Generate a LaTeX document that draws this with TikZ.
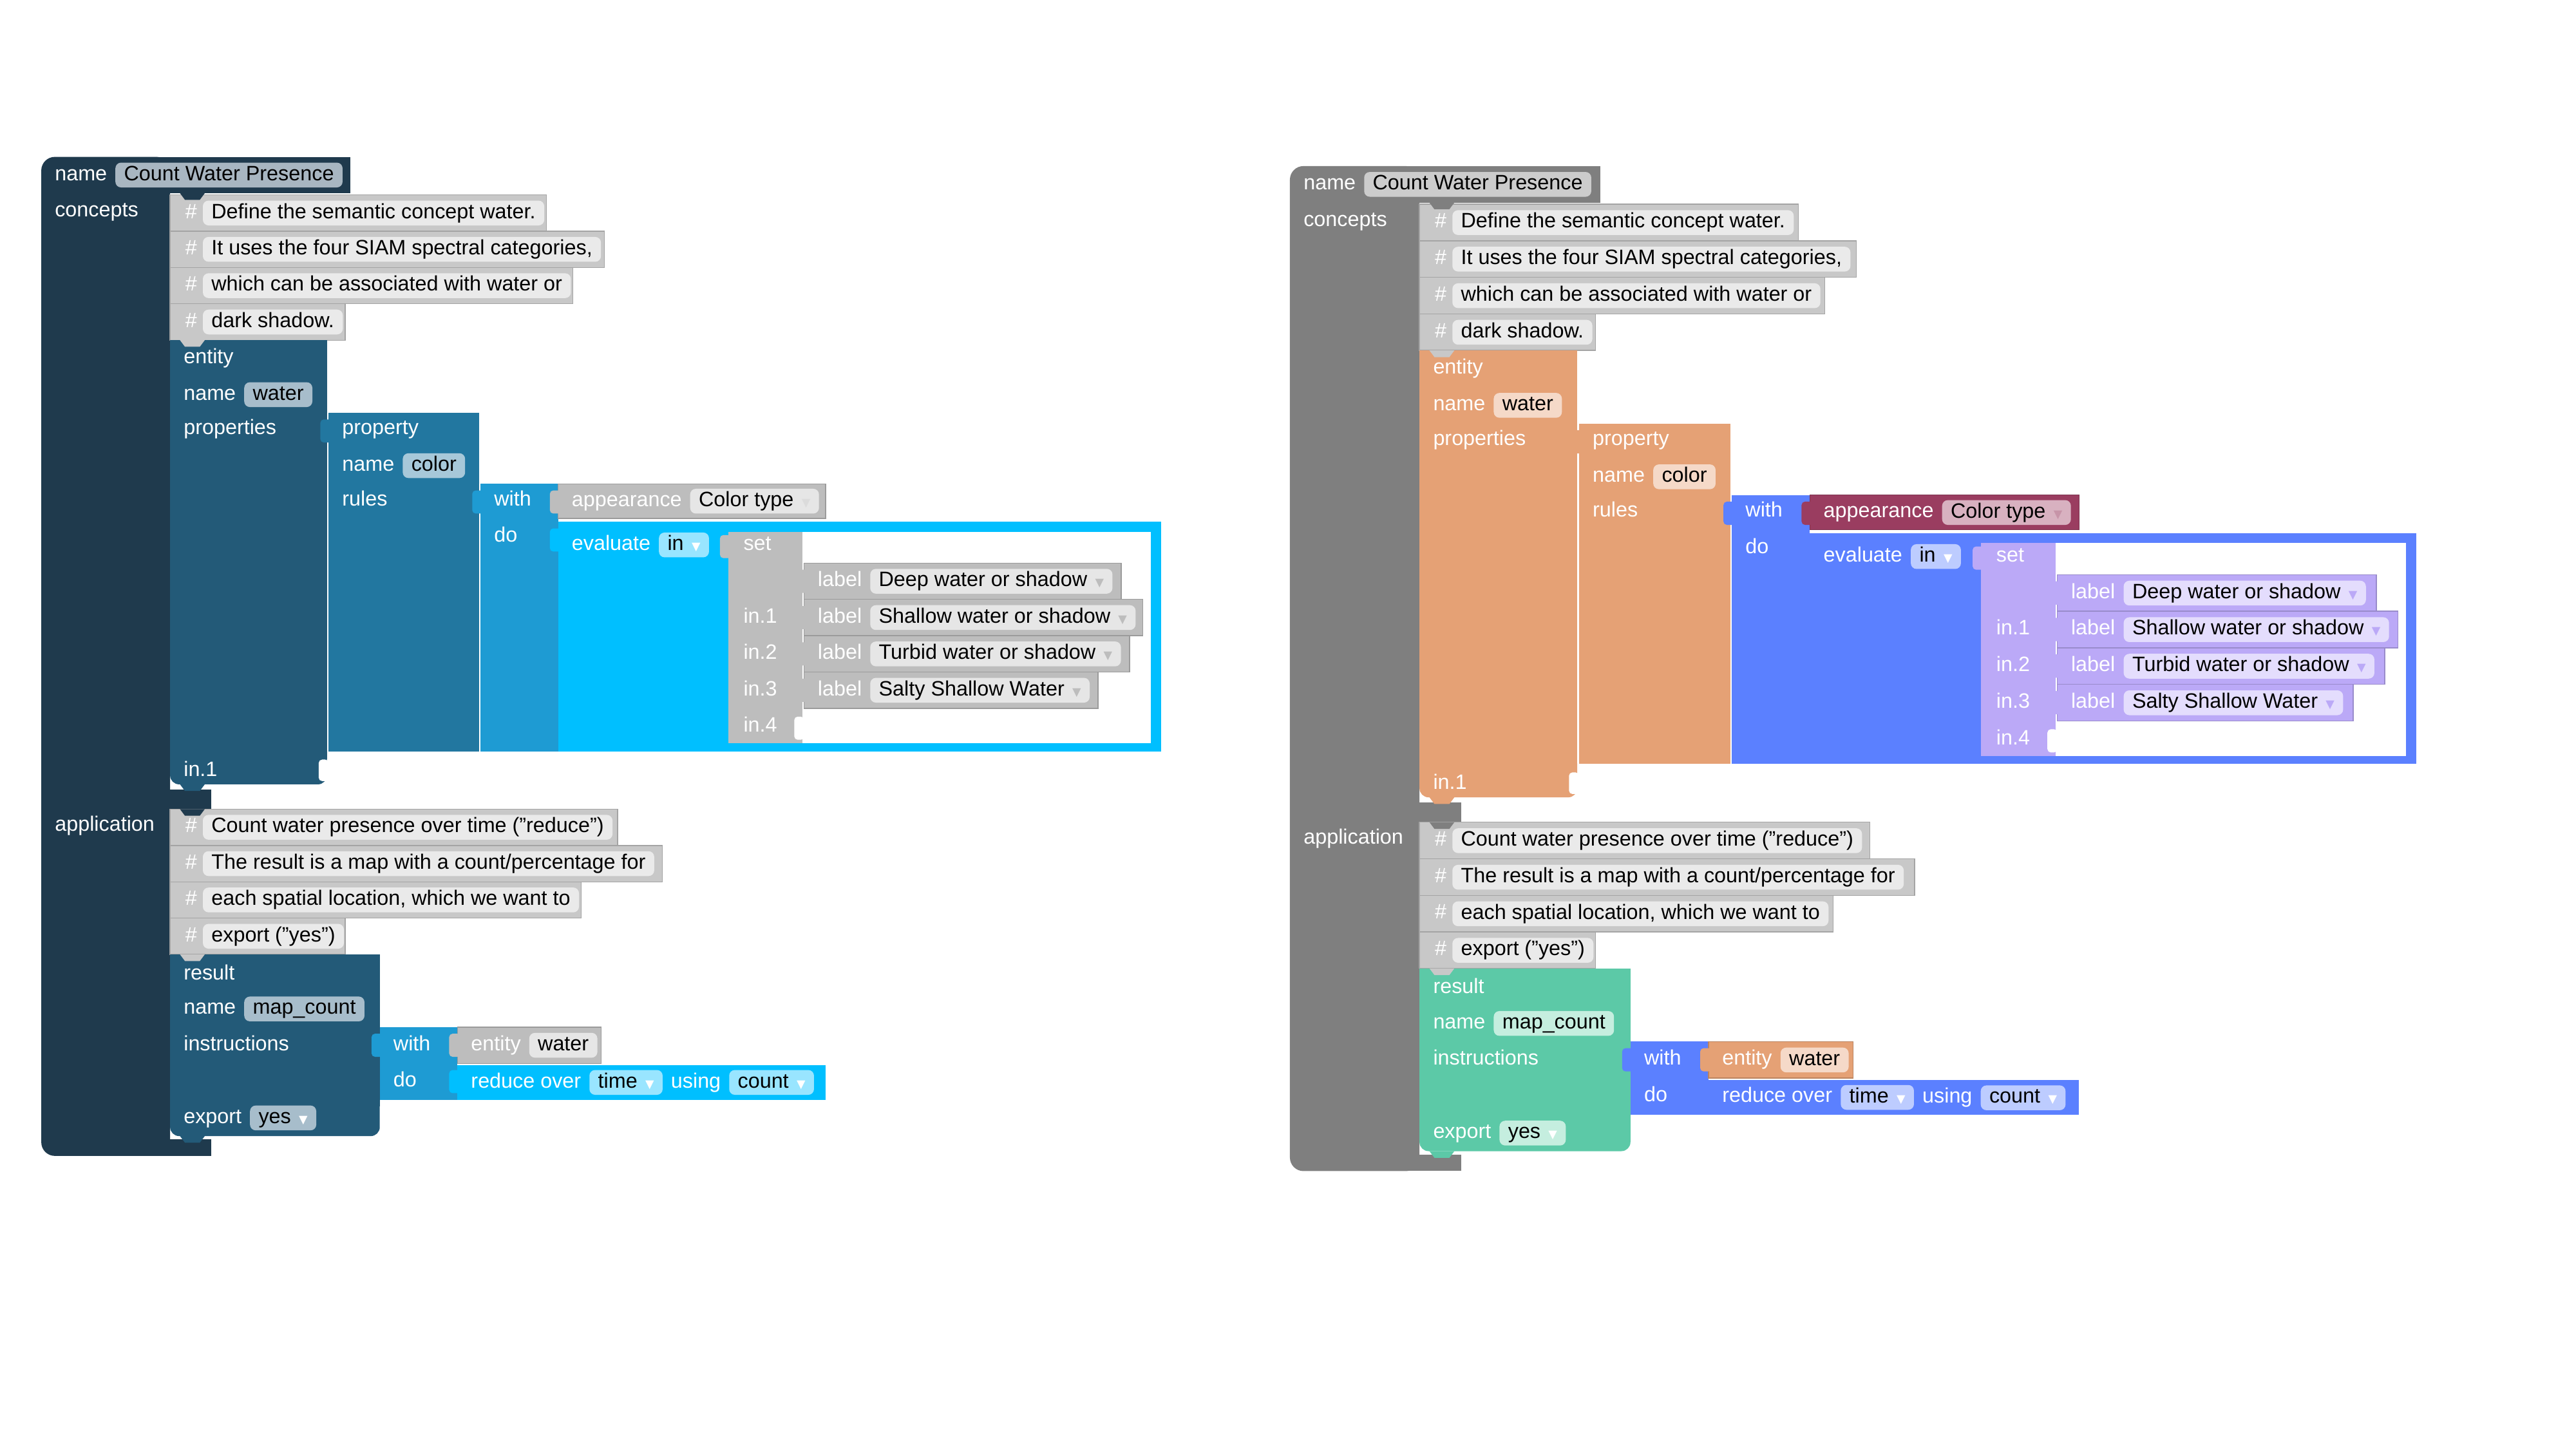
\documentclass[tikz,border=0pt]{standalone}
\usepackage{fontspec}
\setmainfont{Liberation Sans}
\newfontfamily\symfont{DejaVu Sans}
\usetikzlibrary{positioning}

% comment rows (same in both programs)
\definecolor{cmt}{HTML}{C8C8C8}
\definecolor{fcmt}{HTML}{EAEAEA}
% left program: dark blue theme
\definecolor{Louter}{HTML}{1F3A4D}
\definecolor{Lent}{HTML}{235A78}
\definecolor{Lprop}{HTML}{2277A0}
\definecolor{Lwith}{HTML}{1E9BD3}
\definecolor{Lapp}{HTML}{BDBDBD}
\definecolor{Leval}{HTML}{00BFFF}
\definecolor{Lset}{HTML}{BDBDBD}
\definecolor{Lres}{HTML}{235A78}
\definecolor{Lref}{HTML}{BDBDBD}
\definecolor{Lfouter}{HTML}{A8B6C1}
\definecolor{Lfent}{HTML}{A7BDCB}
\definecolor{Lfprop}{HTML}{A7C8D9}
\definecolor{Lfapp}{HTML}{E6E6E6}
\definecolor{Lfeval}{HTML}{99E5FF}
\definecolor{Lfset}{HTML}{E6E6E6}
\definecolor{Lfres}{HTML}{A7BDCB}
\definecolor{Lfref}{HTML}{E6E6E6}
% right program: coloured theme
\definecolor{Router}{HTML}{7F7F7F}
\definecolor{Rent}{HTML}{E5A175}
\definecolor{Rprop}{HTML}{E5A175}
\definecolor{Rwith}{HTML}{5B80FF}
\definecolor{Rapp}{HTML}{9A3D60}
\definecolor{Reval}{HTML}{5B80FF}
\definecolor{Rset}{HTML}{BBA9F7}
\definecolor{Rres}{HTML}{5CC9A7}
\definecolor{Rref}{HTML}{E5A175}
\definecolor{Rfouter}{HTML}{CCCCCC}
\definecolor{Rfent}{HTML}{F5D9C8}
\definecolor{Rfprop}{HTML}{F5D9C8}
\definecolor{Rfapp}{HTML}{D8B1C0}
\definecolor{Rfeval}{HTML}{BDCCFF}
\definecolor{Rfset}{HTML}{E4DDFD}
\definecolor{Rfres}{HTML}{C5EEDF}
\definecolor{Rfref}{HTML}{F5D9C8}

\tikzset{
  lbl/.style={text=white, anchor=west, inner sep=0pt, text height=6.6pt, text depth=1.9pt},
  fld/.style={fill=#1, text=black, rounded corners=2.5pt, inner xsep=3.8pt, inner ysep=0pt,
    minimum height=0.385cm, text height=6.6pt, text depth=1.9pt},
  row/.style={fill=#1, draw=#1!82!black, line width=0.4pt},
}

\newcommand\dd[1]{\hspace{3.5pt}{\symfont\fontsize{5pt}{5pt}\selectfont\textcolor{#1}{▼}}}
% puzzle tab of a value block: colour, left edge, top
\newcommand\tabat[3]{\fill[#1, rounded corners=1.5pt] (#2-5,#3) rectangle (#2+2,#3+14);}
% statement bump under a block: colour, y
\newcommand\notch[2]{\fill[#1] (109,#2) -- (112,#2+4) -- (121,#2+4) -- (124,#2) -- cycle;}
% comment row: prefix, top, right edge, text
\newcommand\cmtrow[4]{%
  \fill[row=cmt] (103,#2) rectangle (#3,#2+22);
  \node[lbl] (#1h#2) at (112,#2+11) {\#};
  \node[fld=fcmt, right=2.2pt of #1h#2] (#1t#2) {#4};
}
% label row in the set: prefix, top, right edge, text
\newcommand\labelrow[4]{%
  \fill[row=#1set] (487,#2) rectangle (#3,#2+22);
  \fill[#1set, rounded corners=1.5pt] (482,#2+4) rectangle (489,#2+18);
  \node[lbl] (#1lab#2) at (495,#2+11) {label};
  \node[fld=#1fset, right=3.3pt of #1lab#2] (#1val#2) {#4\dd{#1set}};
}

\newcommand\drawprogram[1]{%
  % program block
  \fill[#1outer, rounded corners=6pt] (25,95) rectangle (103,700);
  \fill[#1outer] (60,95) rectangle (212,117);
  \fill[#1outer] (60,478) rectangle (128,490);
  \fill[#1outer] (60,690) rectangle (128,700);
  \node[lbl] (#1name) at (33,106) {name};
  \node[fld=#1fouter, right=3.3pt of #1name] (#1title) {Count Water Presence};
  \node[lbl] (#1concepts) at (33,128) {concepts};
  \node[lbl] (#1application) at (33,500) {application};
  % concepts
  \cmtrow{#1}{118}{331}{Define the semantic concept water.}
  \cmtrow{#1}{140}{366}{It uses the four SIAM spectral categories,}
  \cmtrow{#1}{162}{347}{which can be associated with water or}
  \cmtrow{#1}{184}{209}{dark shadow.}
  \notch{#1outer}{117}
  \fill[#1ent] (103,206) rectangle (198,460);
  \fill[#1ent, rounded corners=4pt] (103,450) rectangle (198,475);
  \fill[white, rounded corners=1.5pt] (193,460) rectangle (199,473);
  \notch{cmt}{206}
  \notch{#1ent}{475}
  \node[lbl] (#1entity) at (111,217) {entity};
  \node[lbl] (#1ename) at (111,239) {name};
  \node[fld=#1fent, right=3.3pt of #1ename] (#1water) {water};
  \node[lbl] (#1props) at (111,260) {properties};
  \node[lbl] (#1ein) at (111,467) {in.1};
  % property
  \fill[#1prop] (199,250) rectangle (290,455);
  \tabat{#1prop}{199}{254}
  \node[lbl] (#1property) at (207,260) {property};
  \node[lbl] (#1pname) at (207,282) {name};
  \node[fld=#1fprop, right=3.3pt of #1pname] (#1color) {color};
  \node[lbl] (#1rules) at (207,303) {rules};
  % rule
  \fill[#1with] (291,293) rectangle (338,455);
  \tabat{#1with}{291}{297}
  \node[lbl] (#1with) at (299,303) {with};
  \node[lbl] (#1do) at (299,325) {do};
  \fill[row=#1app] (338,293) rectangle (500,314);
  \tabat{#1app}{338}{297}
  \node[lbl] (#1appear) at (346,303.5) {appearance};
  \node[fld=#1fapp, right=3.3pt of #1appear] (#1ctype) {Color type\dd{#1app!55!white}};
  \fill[#1eval] (338,316) rectangle (703,455);
  \tabat{#1eval}{338}{320}
  \fill[white] (441,322) rectangle (697,450);
  \node[lbl] (#1eval) at (346,330) {evaluate};
  \node[fld=#1feval, right=3.3pt of #1eval] (#1in) {in\dd{white}};
  % set of labels
  \fill[#1set] (441,322) rectangle (486,450);
  \tabat{#1set}{441}{324}
  \fill[white, rounded corners=1.5pt] (481,434) rectangle (487,448);
  \node[lbl] (#1set) at (450,330) {set};
  \node[lbl] (#1in1) at (450,374) {in.1};
  \node[lbl] (#1in2) at (450,396) {in.2};
  \node[lbl] (#1in3) at (450,418) {in.3};
  \node[lbl] (#1in4) at (450,440) {in.4};
  \labelrow{#1}{341}{679}{Deep water or shadow}
  \labelrow{#1}{363}{692}{Shallow water or shadow}
  \labelrow{#1}{385}{684}{Turbid water or shadow}
  \labelrow{#1}{407}{665}{Salty Shallow Water}
  % application
  \cmtrow{#1}{490}{374}{Count water presence over time ("reduce")}
  \cmtrow{#1}{512}{401}{The result is a map with a count/percentage for}
  \cmtrow{#1}{534}{352}{each spatial location, which we want to}
  \cmtrow{#1}{556}{209}{export ("yes")}
  \notch{#1outer}{490}
  \fill[#1res] (103,578) rectangle (230,670);
  \fill[#1res, rounded corners=4pt] (103,660) rectangle (230,688);
  \notch{cmt}{578}
  \notch{#1res}{688}
  \node[lbl] (#1result) at (111,590) {result};
  \node[lbl] (#1rname) at (111,611) {name};
  \node[fld=#1fres, right=3.3pt of #1rname] (#1map) {map\_count};
  \node[lbl] (#1instr) at (111,633) {instructions};
  \node[lbl] (#1export) at (111,677) {export};
  \node[fld=#1fres, right=3.3pt of #1export] (#1yes) {yes\dd{white}};
  \fill[#1with] (230,622) rectangle (277,666);
  \tabat{#1with}{230}{626}
  \node[lbl] (#1awith) at (238,633) {with};
  \node[lbl] (#1ado) at (238,655) {do};
  \fill[row=#1ref] (277,622) rectangle (364,644);
  \tabat{#1ref}{277}{626}
  \node[lbl] (#1aent) at (285,633) {entity};
  \node[fld=#1fref, right=3.3pt of #1aent] (#1awater) {water};
  \fill[#1eval] (277,645) rectangle (500,666);
  \tabat{#1eval}{277}{648}
  \node[lbl] (#1reduce) at (285,655.5) {reduce over};
  \node[fld=#1feval, right=3.3pt of #1reduce] (#1time) {time\dd{white}};
  \node[lbl, right=3.3pt of #1time] (#1using) {using};
  \node[fld=#1feval, right=3.3pt of #1using] (#1count) {count\dd{white}};
}

\begin{document}
\begin{tikzpicture}[x=0.02564cm, y=-0.02564cm,
    every node/.append style={font=\fontsize{9.2pt}{11pt}\selectfont}]
  \useasboundingbox (0,0) rectangle (1560,877.5);
  \drawprogram{L}
  \begin{scope}[shift={(756,5)}, scale=1.006]
    \drawprogram{R}
  \end{scope}
\end{tikzpicture}
\end{document}
